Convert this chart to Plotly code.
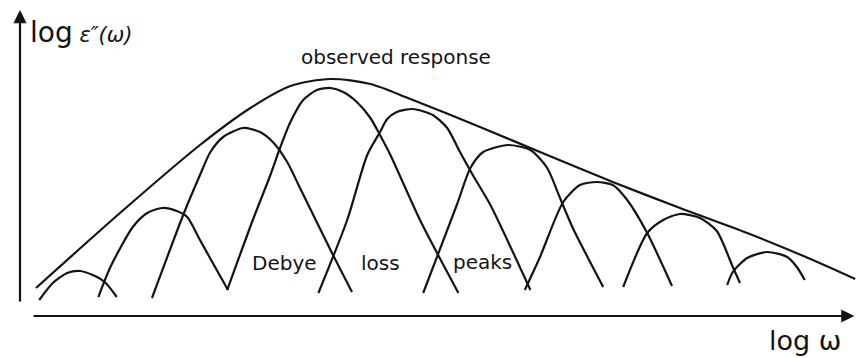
import plotly.graph_objects as go

# values, arbitrary units: x = log(omega), y = log(eps'')
envelope_x = [0.2, 1.25, 2.25, 2.88, 3.38, 3.88, 4.38, 4.88, 5.75, 6.59, 7.41, 8.25, 9.09, 9.91, 10.44]
envelope_y = [0.24, 1.74, 3.10, 3.84, 4.28, 4.42, 4.32, 4.02, 3.46, 2.90, 2.36, 1.84, 1.34, 0.80, 0.42]

peak1_x = [0.24, 0.41, 0.59, 0.75, 0.91, 1.06, 1.21]
peak1_y = [0.0, 0.34, 0.54, 0.58, 0.50, 0.36, 0.06]

peak2_x = [0.98, 1.13, 1.41, 1.59, 1.78, 1.96, 2.09, 2.25, 2.41, 2.6]
peak2_y = [0.06, 0.66, 1.46, 1.74, 1.84, 1.78, 1.66, 1.20, 0.74, 0.20]

peak3_x = [1.65, 2.04, 2.25, 2.38, 2.54, 2.79, 3.0, 3.16, 3.34, 3.5, 3.9, 4.15]
peak3_y = [0.04, 1.70, 2.50, 2.96, 3.26, 3.44, 3.36, 3.16, 2.76, 2.24, 0.94, 0.16]

peak4_x = [2.59, 2.91, 3.13, 3.25, 3.38, 3.54, 3.71, 3.88, 4.04, 4.21, 4.38, 4.5, 4.63, 5.0, 5.48]
peak4_y = [0.20, 1.60, 2.50, 3.04, 3.56, 4.00, 4.20, 4.24, 4.16, 3.96, 3.64, 3.30, 2.90, 1.60, 0.14]

peak5_x = [3.73, 4.09, 4.34, 4.5, 4.59, 4.71, 4.91, 5.16, 5.34, 5.5, 5.66, 5.88, 6.38]
peak5_y = [0.14, 1.60, 2.90, 3.36, 3.62, 3.76, 3.82, 3.70, 3.44, 2.96, 2.50, 1.90, 0.20]

peak6_x = [5.04, 5.46, 5.63, 5.79, 6.1, 6.38, 6.59, 6.75, 6.91, 7.29]
peak6_y = [0.14, 1.90, 2.64, 2.96, 3.10, 3.00, 2.64, 2.04, 1.44, 0.26]

peak7_x = [6.31, 6.5, 6.79, 7.0, 7.21, 7.41, 7.59, 7.84, 8.15]
peak7_y = [0.20, 0.86, 1.96, 2.30, 2.36, 2.30, 2.00, 1.34, 0.28]

peak8_x = [7.54, 7.84, 8.04, 8.25, 8.5, 8.71, 8.91, 9.0]
peak8_y = [0.26, 1.34, 1.60, 1.72, 1.64, 1.38, 0.66, 0.34]

peak9_x = [8.84, 8.91, 9.09, 9.34, 9.59, 9.71, 9.81]
peak9_y = [0.30, 0.56, 0.84, 0.96, 0.86, 0.66, 0.40]

peaks = [
    (peak1_x, peak1_y), (peak2_x, peak2_y), (peak3_x, peak3_y),
    (peak4_x, peak4_y), (peak5_x, peak5_y), (peak6_x, peak6_y),
    (peak7_x, peak7_y), (peak8_x, peak8_y), (peak9_x, peak9_y),
]

ink = '#141414'
font = 'DejaVu Sans'

fig = go.Figure()

fig.add_trace(go.Scatter(
    x=envelope_x, y=envelope_y, mode='lines',
    line=dict(color=ink, width=2.2, shape='spline', smoothing=0.8),
    hoverinfo='skip', showlegend=False
))

for xs, ys in peaks:
    fig.add_trace(go.Scatter(
        x=xs, y=ys, mode='lines',
        line=dict(color=ink, width=2.2, shape='spline', smoothing=0.7),
        hoverinfo='skip', showlegend=False
    ))

# axes drawn as arrows, like the hand sketch
fig.add_annotation(x=0, y=5.8, ax=0, ay=-0.06, xref='x', yref='y', axref='x', ayref='y',
                   text='', showarrow=True, arrowhead=2, arrowsize=1.2,
                   arrowwidth=2.2, arrowcolor=ink)
fig.add_annotation(x=10.43, y=-0.32, ax=0.15, ay=-0.32, xref='x', yref='y', axref='x', ayref='y',
                   text='', showarrow=True, arrowhead=2, arrowsize=1.2,
                   arrowwidth=2.2, arrowcolor=ink)

fig.add_annotation(x=0.1, y=5.36, xanchor='left', yanchor='middle', showarrow=False,
                   text="<span style='font-size:28px'>log</span> <i>ε″(ω)</i>",
                   font=dict(family=font, size=21, color=ink))
fig.add_annotation(x=9.81, y=-0.8, showarrow=False, text='log ω',
                   font=dict(family=font, size=27, color=ink))
fig.add_annotation(x=4.7, y=4.86, showarrow=False, text='observed response',
                   font=dict(family=font, size=20, color=ink))

for label, lx, ly in [('Debye', 3.31, 0.74), ('loss', 4.51, 0.74), ('peaks', 5.78, 0.76)]:
    fig.add_annotation(x=lx, y=ly, showarrow=False, text=label,
                       font=dict(family=font, size=20, color=ink))

fig.update_xaxes(visible=False, range=[-0.25, 10.4625], fixedrange=True)
fig.update_yaxes(visible=False, range=[-1.16, 6.0], fixedrange=True)

fig.update_layout(
    width=857,
    height=358,
    margin=dict(l=0, r=0, t=0, b=0),
    plot_bgcolor='white',
    paper_bgcolor='white'
)

# the page body has a default margin that would push the figure off the window
fig.write_html('out.html', config={'displayModeBar': False},
               post_script="document.body.style.margin='0';")
